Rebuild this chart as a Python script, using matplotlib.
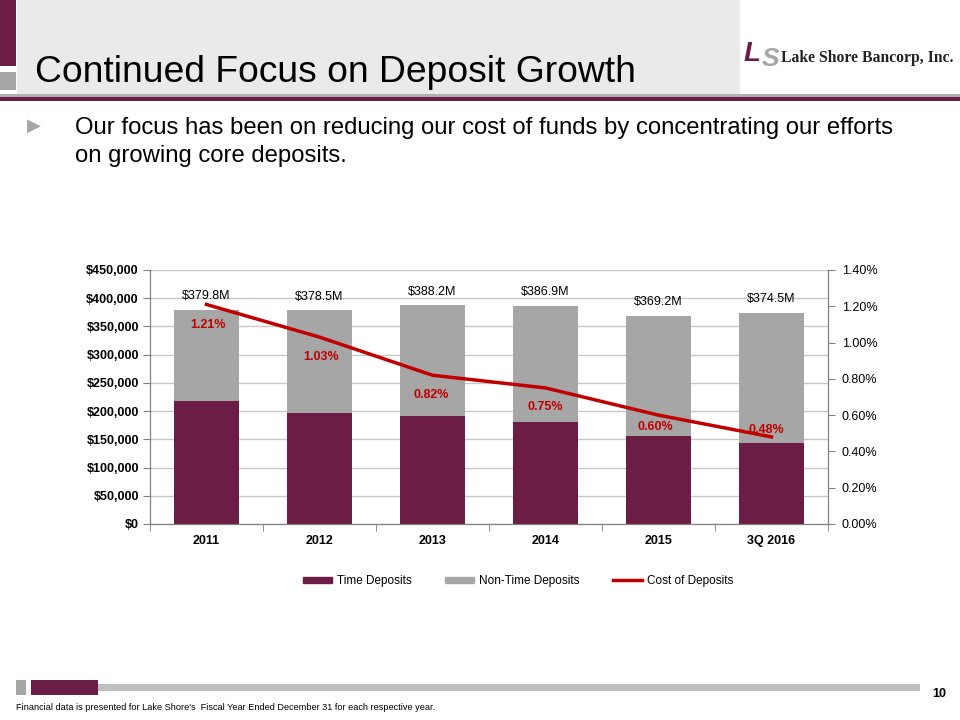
import matplotlib.pyplot as plt
import matplotlib.patches as mpatches
from matplotlib.lines import Line2D
from matplotlib.ticker import FuncFormatter, MultipleLocator

plt.rcParams["font.family"] = ["Liberation Sans", "DejaVu Sans"]

years = ["2011", "2012", "2013", "2014", "2015", "3Q 2016"]
time_deposits = [218000, 197000, 192000, 181000, 156000, 144000]
total_deposits = [379800, 378500, 388200, 386900, 369200, 374500]
total_labels = ["$379.8M", "$378.5M", "$388.2M", "$386.9M", "$369.2M", "$374.5M"]
cost_of_deposits = [1.21, 1.03, 0.82, 0.75, 0.60, 0.48]

non_time = [t - d for t, d in zip(total_deposits, time_deposits)]

# where each % label sits relative to its point (points)
pct_offsets = [(1, -15), (1, -14.5), (-1, -14), (0, -14), (-2, -8.5), (-4, 5)]

maroon = "#6b1d45"
gray = "#a6a6a6"
red = "#c00000"

W, H = 960, 720
fig = plt.figure(figsize=(9.6, 7.2), dpi=100)
fig.patch.set_facecolor("white")


def px_rect(x, y, w, h, color):
    # rectangle in pixel coords measured from the top-left
    fig.patches.append(mpatches.Rectangle(
        (x / W, 1 - (y + h) / H), w / W, h / H,
        transform=fig.transFigure, color=color, lw=0, zorder=0))


# header
px_rect(17, 0, 723, 94, "#eaeaea")
px_rect(0, 0, 16, 66, maroon)
px_rect(0, 72, 16, 18, gray)
px_rect(0, 94, 960, 3, "#b0b0b0")
px_rect(0, 97, 960, 4, maroon)
fig.text(35 / W, 1 - 82 / H, "Continued Focus on Deposit Growth",
         fontsize=26.8, va="baseline", ha="left", color="black")

# logo
fig.text(744 / W, 1 - 61 / H, "L", fontsize=20, fontweight="bold",
         style="italic", color=maroon, va="baseline")
fig.text(762 / W, 1 - 66 / H, "S", fontsize=19, fontweight="bold",
         style="italic", color=gray, va="baseline")
fig.text(781 / W, 1 - 62 / H, "Lake Shore Bancorp, Inc.", fontsize=11.3,
         fontweight="bold", family="Liberation Serif", va="baseline",
         color="#222222")

# bullet
fig.text(27 / W, 1 - 131 / H, "\u25B6", fontsize=13, color=gray,
         va="baseline", family="DejaVu Sans")
fig.text(75 / W, 1 - 134 / H,
         "Our focus has been on reducing our cost of funds by concentrating our efforts",
         fontsize=17.2, va="baseline")
fig.text(75 / W, 1 - 162 / H, "on growing core deposits.",
         fontsize=17.2, va="baseline")

# chart
ax = fig.add_axes([150 / W, 196 / H, 678 / W, 254 / H])
x = list(range(len(years)))
ax.bar(x, time_deposits, width=0.57, color=maroon, zorder=2,
       label="Time Deposits")
ax.bar(x, non_time, width=0.57, bottom=time_deposits, color=gray,
       zorder=2, label="Non-Time Deposits")
for xi, tot, lab in zip(x, total_deposits, total_labels):
    ax.annotate(lab, (xi, tot), xytext=(0, 9.5), textcoords="offset points",
                ha="center", va="center", fontsize=9)

ax.set_xlim(-0.5, len(years) - 0.5)
ax.set_ylim(0, 450000)
ax.yaxis.set_major_locator(MultipleLocator(50000))
ax.yaxis.set_major_formatter(FuncFormatter(lambda v, p: f"${v:,.0f}"))
ax.set_xticks(x)
ax.set_xticklabels(years)
ax.set_xticks([i + 0.5 for i in x[:-1]] + [-0.5, len(years) - 0.5],
              minor=True)
ax.tick_params(axis="x", which="major", length=0, pad=8)
ax.tick_params(axis="x", which="minor", length=5, color="#808080",
               direction="out")
ax.tick_params(axis="y", length=5, color="#808080", pad=3)
for lab in ax.get_xticklabels() + ax.get_yticklabels():
    lab.set_fontweight("bold")
    lab.set_fontsize(9)
ax.grid(axis="y", color="#c8c8c8", lw=1, zorder=0)
ax.set_axisbelow(True)
ax.spines["top"].set_visible(False)
for s in ["left", "bottom", "right"]:
    ax.spines[s].set_color("#808080")

ax2 = ax.twinx()
ax2.plot(x, cost_of_deposits, color=red, lw=2.5, zorder=3,
         label="Cost of Deposits")
for xi, c, off in zip(x, cost_of_deposits, pct_offsets):
    ax2.annotate(f"{c:.2f}%", (xi, c), xytext=off,
                 textcoords="offset points", ha="center", va="center",
                 fontsize=9, fontweight="bold", color=red)
ax2.set_ylim(0, 1.4)
ax2.yaxis.set_major_locator(MultipleLocator(0.2))
ax2.yaxis.set_major_formatter(FuncFormatter(lambda v, p: f"{v:.2f}%"))
ax2.tick_params(axis="y", length=5, color="#808080", labelsize=9, pad=5)
ax2.spines["top"].set_visible(False)
for s in ["left", "bottom", "right"]:
    ax2.spines[s].set_color("#808080")

handles = [
    mpatches.Patch(color=maroon, label="Time Deposits"),
    mpatches.Patch(color=gray, label="Non-Time Deposits"),
    Line2D([0], [0], color=red, lw=2.5, label="Cost of Deposits"),
]
fig.legend(handles=handles, loc="center", bbox_to_anchor=(518 / W, 1 - 581 / H),
           ncol=3, frameon=False, fontsize=8.5, handlelength=2.5,
           handleheight=0.4, columnspacing=2.8, handletextpad=0.4)

# footer
px_rect(16, 680, 10, 15, gray)
px_rect(31, 680, 67, 15, maroon)
px_rect(98, 684, 822, 7, "#bfbfbf")
fig.text(932 / W, 1 - 697 / H, "10", fontsize=9, fontweight="bold",
         va="baseline")
fig.text(16 / W, 1 - 710 / H,
         "Financial data is presented for Lake Shore's  Fiscal Year Ended December 31 for each respective year.",
         fontsize=6.6, va="baseline")

fig.savefig("out.png", dpi=100)
